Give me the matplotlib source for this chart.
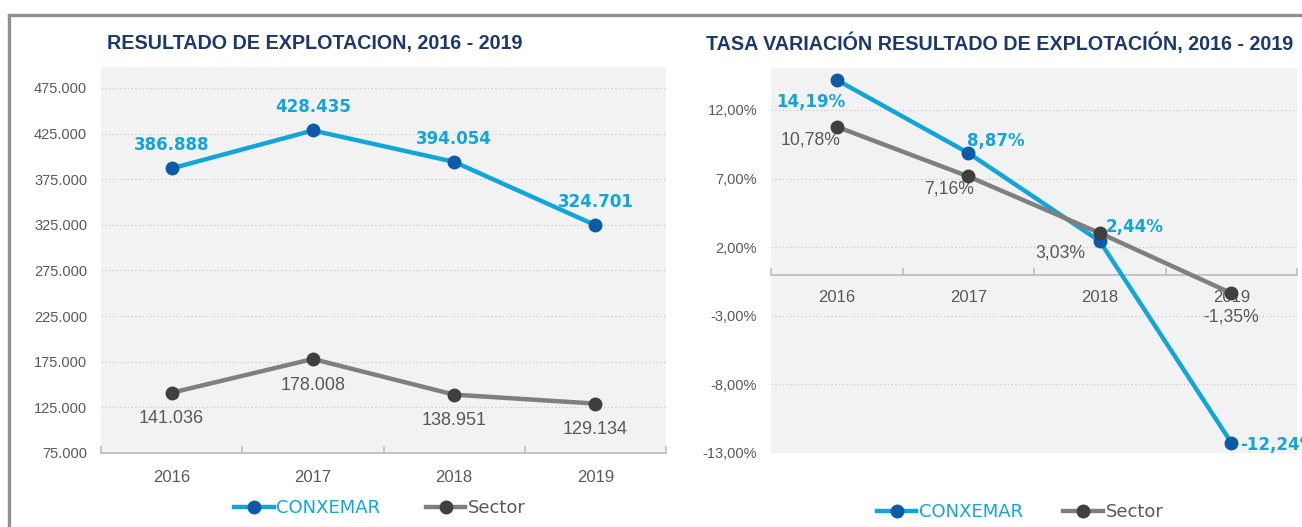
import matplotlib
matplotlib.use("Agg")
import matplotlib.pyplot as plt
from matplotlib.lines import Line2D
from matplotlib.ticker import FuncFormatter, FixedLocator

# Data.
years = ["2016", "2017", "2018", "2019"]
conxemar_result = [386888, 428435, 394054, 324701]
sector_result = [141036, 178008, 138951, 129134]
conxemar_rate = [14.19, 8.87, 2.44, -12.24]
sector_rate = [10.78, 7.16, 3.03, -1.35]

# Styles.
BLUE = "#12a5d9"
BLUE_MARK = "#0b5ba6"
GREY = "#7f7f7f"
GREY_MARK = "#3f3f3f"
TXT = "#595959"
NAVY = "#1b3a6b"
BG = "#f2f2f2"
W, H = 1302, 527
PX = 0.72  # points per pixel at dpi 100

plt.rcParams["font.family"] = ["Liberation Sans", "DejaVu Sans"]


def fmt_thousands(v):
    return f"{v:,.0f}".replace(",", ".")


def fmt_pct(v):
    return f"{v:.2f}%".replace(".", ",")


def axes_box(left, top, right, bottom):
    # pixel box -> figure fraction rect
    return [left / W, 1 - bottom / H, (right - left) / W, (bottom - top) / H]


def style_axes(ax, ylo, yhi, yticks, yfmt):
    ax.set_facecolor(BG)
    ax.set_xlim(-0.5, 3.5)
    ax.set_ylim(ylo, yhi)
    for s in ["top", "right", "left"]:
        ax.spines[s].set_visible(False)
    ax.spines["bottom"].set_color("#bfbfbf")
    ax.spines["bottom"].set_linewidth(1.3)
    ax.yaxis.set_major_locator(FixedLocator(yticks))
    ax.yaxis.set_major_formatter(FuncFormatter(lambda v, p: yfmt(v)))
    ax.tick_params(axis="y", length=0, pad=10, labelsize=10.5, labelcolor=TXT)
    ax.set_xticks(range(len(years)))
    ax.set_xticklabels(years)
    ax.set_xticks([-0.5, 0.5, 1.5, 2.5, 3.5], minor=True)
    ax.tick_params(axis="x", which="major", length=0, labelsize=12,
                   labelcolor=TXT)
    ax.tick_params(axis="x", which="minor", direction="in", length=5,
                   color="#bfbfbf", width=1.2)
    ax.grid(axis="y", linestyle=(0, (1, 2)), color="#c8c8c8", linewidth=0.9)
    ax.set_axisbelow(True)


def plot_series(ax, blue, grey):
    x = range(len(years))
    ax.plot(x, blue, color=BLUE, lw=3.2, marker="o", ms=9,
            mfc=BLUE_MARK, mec=BLUE_MARK, label="CONXEMAR", zorder=3)
    ax.plot(x, grey, color=GREY, lw=3.2, marker="o", ms=9,
            mfc=GREY_MARK, mec=GREY_MARK, label="Sector", zorder=4)


def add_legend(ax, cx, cy, spacing):
    leg = ax.legend(loc="center", bbox_to_anchor=(cx / W, 1 - cy / H),
                    bbox_transform=ax.figure.transFigure, ncol=2,
                    frameon=False, handlelength=2.2,
                    handletextpad=0.15, columnspacing=spacing,
                    prop={"family": ["DejaVu Sans"], "size": 13})
    leg.get_texts()[0].set_color(BLUE)
    leg.get_texts()[1].set_color(TXT)


fig = plt.figure(figsize=(W / 100, H / 100), dpi=100)

# Frame of the screenshot.
fig.add_artist(Line2D([9 / W, 1], [1 - 15 / H, 1 - 15 / H], color="#8f8f8f",
                      lw=2.4, transform=fig.transFigure))
fig.add_artist(Line2D([9 / W, 9 / W], [0, 1 - 15 / H], color="#8f8f8f",
                      lw=2.4, transform=fig.transFigure))

# Left: absolute result.
ax1 = fig.add_axes(axes_box(101, 67, 666, 453))
style_axes(ax1, 75000, 498000, range(75000, 475001, 50000), fmt_thousands)
ax1.tick_params(axis="x", which="major", pad=12)
plot_series(ax1, conxemar_result, sector_result)
for i, v in enumerate(conxemar_result):
    ax1.annotate(fmt_thousands(v), (i, v), xytext=(0, 23 * PX),
                 textcoords="offset points", ha="center", va="center",
                 color=BLUE, fontsize=12, fontweight="bold",
                 family=["DejaVu Sans"])
for i, v in enumerate(sector_result):
    ax1.annotate(fmt_thousands(v), (i, v), xytext=(0, -26 * PX),
                 textcoords="offset points", ha="center", va="center",
                 color=TXT, fontsize=13)
fig.text(107 / W, 1 - 43 / H, "RESULTADO DE EXPLOTACION, 2016 - 2019",
         color=NAVY, fontsize=14.2, fontweight="bold", va="center")
add_legend(ax1, 380, 508, 2.5)

# Right: rate of change.
ax2 = fig.add_axes(axes_box(771, 68, 1297, 453))
style_axes(ax2, -13, 15.06, [-13, -8, -3, 2, 7, 12], fmt_pct)
ax2.spines["bottom"].set_position(("data", 0))
ax2.tick_params(axis="x", which="major", pad=11)
plot_series(ax2, conxemar_rate, sector_rate)
blue_off = [(-26, -22, "center"), (28, 12, "center"), (35, 14, "center"),
            (9, -2, "left")]
grey_off = [(-26, -13), (-19, -13), (-39, -20), (0, -24)]
for i, v in enumerate(conxemar_rate):
    dx, dy, ha = blue_off[i]
    ax2.annotate(fmt_pct(v), (i, v), xytext=(dx * PX, dy * PX),
                 textcoords="offset points", ha=ha, va="center",
                 color=BLUE, fontsize=12, fontweight="bold",
                 family=["DejaVu Sans"], annotation_clip=False)
for i, v in enumerate(sector_rate):
    dx, dy = grey_off[i]
    ax2.annotate(fmt_pct(v), (i, v), xytext=(dx * PX, dy * PX),
                 textcoords="offset points", ha="center", va="center",
                 color=TXT, fontsize=12.7)
fig.text(706 / W, 1 - 43 / H,
         "TASA VARIACIÓN RESULTADO DE EXPLOTACIÓN, 2016 - 2019",
         color=NAVY, fontsize=14.2, fontweight="bold", va="center")
add_legend(ax2, 1020, 512, 2.2)

fig.savefig("out.png", dpi=100)
